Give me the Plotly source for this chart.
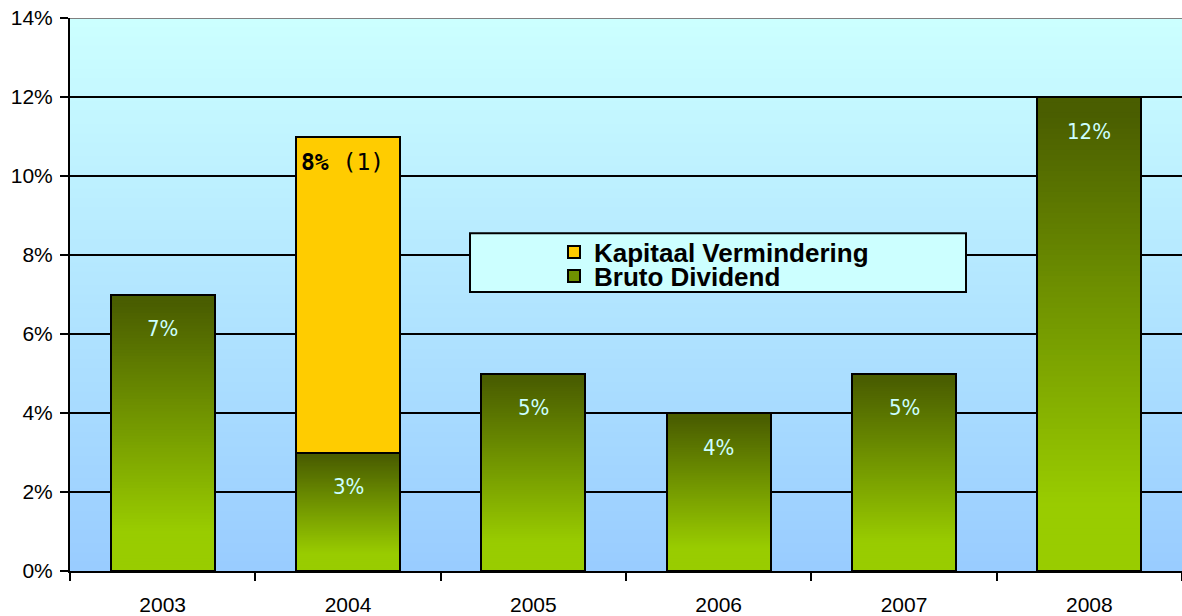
import plotly.graph_objects as go

# ---- data ----
years = ["2003", "2004", "2005", "2006", "2007", "2008"]
bruto_dividend = [7, 3, 5, 4, 5, 12]
kapitaal_vermindering = [None, 8, None, None, None, None]
bruto_labels = ["7%", "3%", "5%", "4%", "5%", "12%"]
kapitaal_labels = [None, "<b>8%</b> (1)", None, None, None, None]
y_ticks = [0, 2, 4, 6, 8, 10, 12, 14]
y_tick_text = ["0%", "2%", "4%", "6%", "8%", "10%", "12%", "14%"]

# ---- style ----
BAR_W = 0.56
DARK = (74, 94, 0)
LIGHT = (153, 204, 0)
BG_TOP = (204, 255, 255)
BG_BOT = (153, 204, 255)
Y_MAX = 14
PLOT_L, PLOT_T, PLOT_B = 70, 18, 573
PLOT_W = 1182 - PLOT_L
PLOT_H = PLOT_B - PLOT_T


def px_x(p):
    return (p - PLOT_L) / PLOT_W


def px_y(p):
    return (PLOT_B - p) / PLOT_H


def lerp(c1, c2, s):
    return "rgb(%d,%d,%d)" % tuple(round(a + (b - a) * s) for a, b in zip(c1, c2))


shapes = []
# background gradient (paper coords, under gridlines)
NB = 120
for k in range(NB):
    top = 1 - k / NB
    shapes.append(dict(type="rect", xref="paper", yref="paper", x0=0, x1=1, y0=0, y1=top,
                       fillcolor=lerp(BG_TOP, BG_BOT, k / (NB - 1)), line_width=0, layer="below"))

# bar gradients (between gridlines and traces)
NS = 90
for i, v in enumerate(bruto_dividend):
    for k in range(NS):
        t = k / NS
        s = min(1.0, max(0.0, (t - 0.03) / 0.82))
        shapes.append(dict(type="rect", xref="x", yref="y", x0=i - BAR_W / 2, x1=i + BAR_W / 2,
                           y0=0, y1=v * (1 - t), fillcolor=lerp(DARK, LIGHT, s),
                           line_width=0, layer="between"))

# top border line at 14%
shapes.append(dict(type="line", xref="paper", yref="y", x0=0, x1=1, y0=Y_MAX, y1=Y_MAX,
                   line=dict(color="#808080", width=2), layer="between"))

# legend box
shapes.append(dict(type="rect", xref="paper", yref="paper",
                   x0=px_x(470), x1=px_x(966), y0=px_y(293), y1=px_y(234),
                   fillcolor="#ccffff", line=dict(color="black", width=2), layer="above"))

fig = go.Figure()
fig.add_trace(go.Bar(x=years, y=bruto_dividend, name="Bruto Dividend", showlegend=False,
                     marker=dict(color="rgba(0,0,0,0)", line=dict(color="black", width=2)),
                     hoverinfo="skip"))
fig.add_trace(go.Bar(x=years, y=kapitaal_vermindering, name="<b>Kapitaal Vermindering</b>",
                     legend="legend",
                     marker=dict(color="#ffcc00", line=dict(color="black", width=2))))
fig.add_trace(go.Bar(x=[years[0]], y=[None], name="<b>Bruto Dividend</b>", legend="legend2",
                     marker=dict(color="#6e9200", line=dict(color="black", width=2))))

annotations = []
for i, (v, lab) in enumerate(zip(bruto_dividend, bruto_labels)):
    annotations.append(dict(x=i, y=v, xref="x", yref="y", text=lab, showarrow=False,
                            yanchor="middle", yshift=-34,
                            font=dict(family="Liberation Sans Narrow, DejaVu Sans Condensed, Arial Narrow",
                                      size=22, color="#ccffff")))
for i, lab in enumerate(kapitaal_labels):
    if lab is None:
        continue
    top = bruto_dividend[i] + kapitaal_vermindering[i]
    annotations.append(dict(x=i - BAR_W / 2, y=top, xref="x", yref="y", text=lab, showarrow=False,
                            xanchor="left", yanchor="middle", xshift=3, yshift=-25,
                            font=dict(family="DejaVu Sans Mono, Liberation Mono", size=23, color="black")))

legend_style = dict(xanchor="left", yanchor="middle", bgcolor="rgba(0,0,0,0)",
                    font=dict(family="Liberation Sans, Arial", size=26, color="black"),
                    itemwidth=30)

fig.update_layout(
    width=1182, height=616,
    margin=dict(l=PLOT_L, r=0, t=PLOT_T, b=616 - PLOT_B),
    barmode="stack", bargap=1 - BAR_W,
    paper_bgcolor="white", plot_bgcolor="#b3e0ff",
    shapes=shapes, annotations=annotations,
    showlegend=True,
    legend=dict(x=px_x(554), y=px_y(253), **legend_style),
    legend2=dict(x=px_x(554), y=px_y(277), **legend_style),
    font=dict(family="Liberation Sans, Arial", color="black"),
)
fig.update_xaxes(type="category", range=[-0.5, 5.5], showgrid=False, showline=True,
                 linecolor="black", linewidth=2, ticks="outside", tickson="boundaries",
                 ticklen=8, tickwidth=2, tickcolor="black", ticklabelstandoff=14,
                 tickfont=dict(size=21, family="Liberation Sans, Arial"), zeroline=False)
fig.update_yaxes(range=[0, Y_MAX], tickvals=y_ticks, ticktext=y_tick_text, showgrid=True,
                 gridcolor="black", gridwidth=2, showline=True, linecolor="black", linewidth=2,
                 ticks="outside", ticklen=8, tickwidth=2, tickcolor="black", ticklabelstandoff=3,
                 tickfont=dict(size=21, family="Liberation Sans, Arial"), zeroline=False)

fig.write_html("out.html", config={"displayModeBar": False},
               post_script="document.body.style.margin='0';")
